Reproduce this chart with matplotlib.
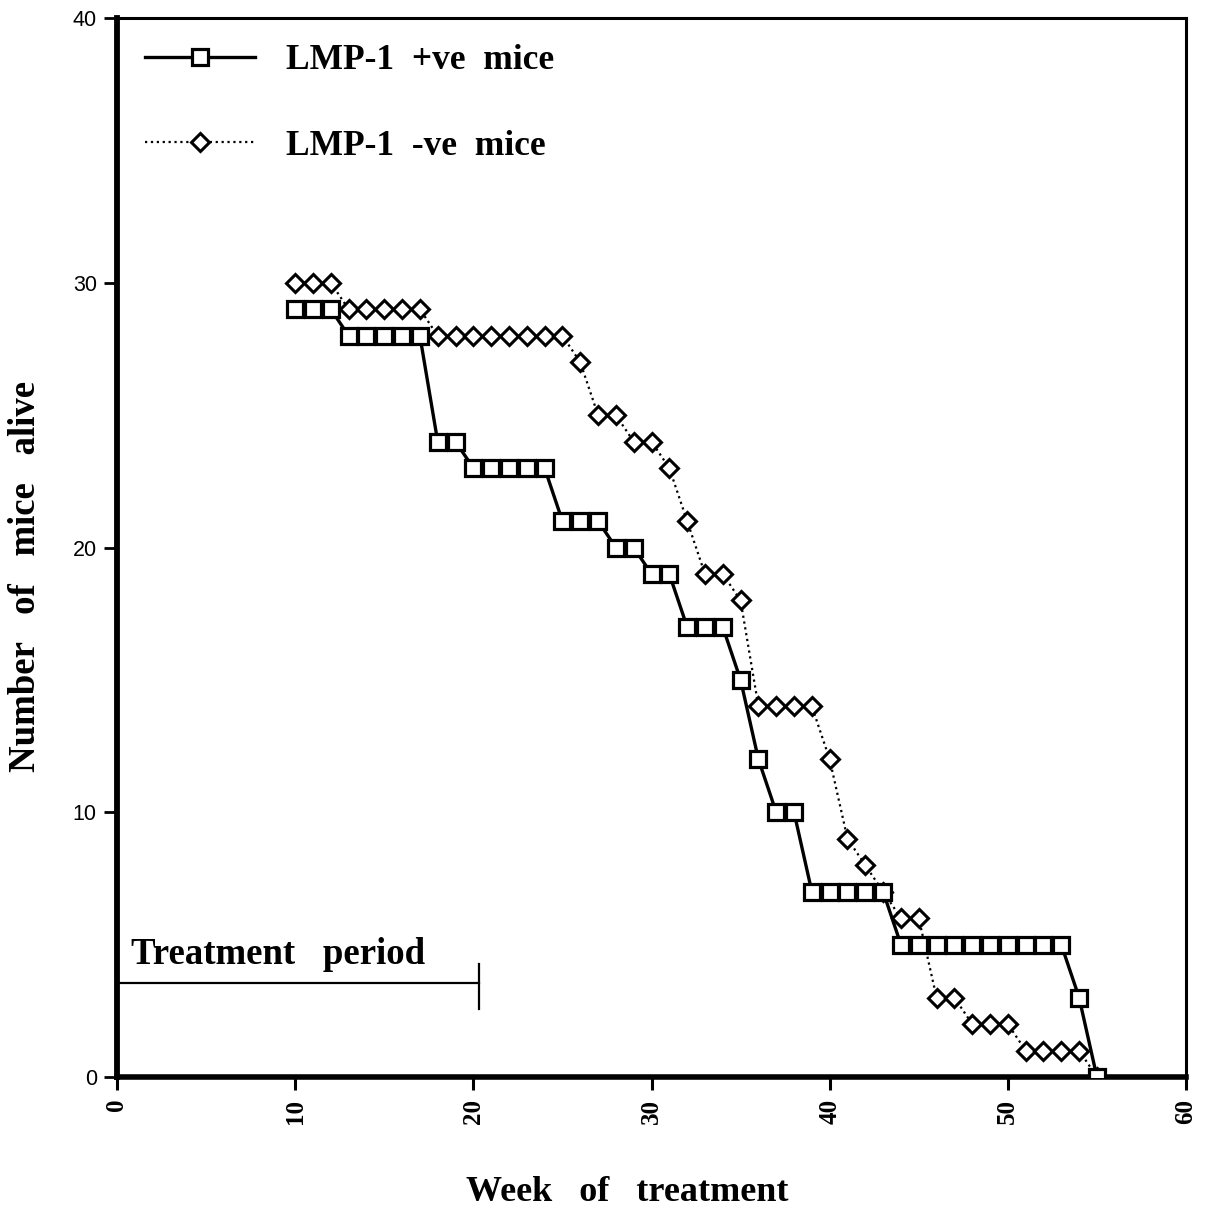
import matplotlib
matplotlib.use("Agg")
import matplotlib.pyplot as plt

# Survival counts per week of treatment
weeks = list(range(10, 56))
alive_pos = [29, 29, 29,
             28, 28, 28, 28, 28,
             24, 24,
             23, 23, 23, 23, 23,
             21, 21, 21,
             20, 20,
             19, 19,
             17, 17, 17,
             15,
             12,
             10, 10,
             7, 7, 7, 7, 7,
             5, 5, 5, 5, 5, 5, 5, 5, 5, 5,
             3,
             0]
alive_neg = [30, 30, 30,
             29, 29, 29, 29, 29,
             28, 28, 28, 28, 28, 28, 28, 28,
             27,
             25, 25,
             24, 24,
             23,
             21,
             19, 19,
             18,
             14, 14, 14, 14,
             12,
             9,
             8,
             7,
             6, 6,
             3, 3,
             2, 2, 2,
             1, 1, 1, 1,
             0]

label_pos = "LMP-1  +ve  mice"
label_neg = "LMP-1  -ve  mice"
treatment_end = 20.3
treatment_level = 3.55

x_ticks = [0, 10, 20, 30, 40, 50, 60]
y_ticks = [0, 10, 20, 30, 40]

serif_bold = dict(family="Liberation Serif", weight="bold")

fig = plt.figure(figsize=(12.08, 12.09), dpi=100)
ax = fig.add_axes([117 / 1208, 1 - 1077 / 1209, (1186 - 117) / 1208, (1077 - 18) / 1209])

ln_neg, = ax.plot(weeks, alive_neg, linestyle=":", color="black", lw=1.6,
                  marker="D", ms=8.8, mfc="white", mec="black", mew=2.2,
                  zorder=3)
ln_pos, = ax.plot(weeks, alive_pos, linestyle="-", color="black", lw=2.4,
                  marker="s", ms=11.5, mfc="white", mec="black", mew=2.3,
                  zorder=4)

# Treatment period bar
ax.plot([0, treatment_end], [treatment_level, treatment_level],
        color="black", lw=1.6, zorder=2)
ax.plot([treatment_end, treatment_end], [2.55, 4.25], color="black", lw=1.6,
        zorder=2)
ax.text(0.8, 4.25, "Treatment   period", fontsize=26.5, va="baseline",
        ha="left", **serif_bold)

ax.set_xlim(0, 60)
ax.set_ylim(0, 40)
ax.set_xticks(x_ticks)
ax.set_yticks(y_ticks)
ax.set_xticklabels([str(t) for t in x_ticks], rotation=90,
                   family="Liberation Serif", weight="bold", fontsize=18)
ax.set_yticklabels([str(t) for t in y_ticks], family="Liberation Sans",
                   fontsize=15.5)
ax.tick_params(axis="x", direction="out", length=9.5, width=2.2, pad=6)
ax.tick_params(axis="y", direction="out", length=9.5, width=2.0, pad=5)

ax.spines["left"].set_linewidth(4.2)
ax.spines["bottom"].set_linewidth(4.0)
ax.spines["top"].set_linewidth(2.2)
ax.spines["right"].set_linewidth(2.2)

ax.set_xlabel("Week   of   treatment", fontsize=26, va="center", **serif_bold)
ax.xaxis.set_label_coords(0.477, -0.1086)
ax.set_ylabel("Number   of   mice   alive", fontsize=26.5, va="center",
              **serif_bold)
ax.yaxis.set_label_coords(-0.086, 0.473)

leg = ax.legend([ln_pos, ln_neg], [label_pos, label_neg], loc="upper left",
                bbox_to_anchor=(0.026, 0.975), frameon=False, borderpad=0,
                borderaxespad=0, handlelength=3.1, handletextpad=0.9,
                labelspacing=1.48, prop=dict(size=25.5, **serif_bold))
for h in leg.legend_handles:
    h.set_markevery([1])

fig.savefig("out.png", dpi=100)
